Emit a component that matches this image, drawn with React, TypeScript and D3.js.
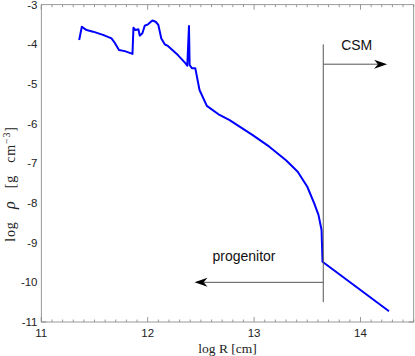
import React, { useRef, useEffect } from "react";
import * as d3 from "d3";

// density profile
const logR = [
  11.356, 11.381, 11.425, 11.487, 11.58, 11.66, 11.69, 11.73, 11.785, 11.857,
  11.866, 11.885, 11.913, 11.925, 11.95, 11.972, 12.003, 12.044, 12.075, 12.1,
  12.128, 12.16, 12.19, 12.284, 12.356, 12.372, 12.388, 12.394, 12.415, 12.447,
  12.487, 12.556, 12.675, 12.77, 12.987, 13.143, 13.3, 13.41, 13.5, 13.565,
  13.605, 13.634, 13.643, 14.268,
];
const logRho = [
  -3.89, -3.555, -3.64, -3.68, -3.76, -3.85, -3.96, -4.14, -4.17, -4.24,
  -3.58, -3.64, -3.62, -3.78, -3.72, -3.53, -3.495, -3.4, -3.43, -3.51,
  -3.85, -4.0, -4.04, -4.27, -4.48, -4.54, -3.54, -4.52, -4.6, -4.6,
  -5.15, -5.55, -5.78, -5.91, -6.29, -6.58, -6.92, -7.21, -7.59, -8.01,
  -8.3, -8.68, -9.48, -10.73,
];

const xTicks = [11, 12, 13, 14];
const yTicks = [-3, -4, -5, -6, -7, -8, -9, -10, -11];

// boundary between progenitor and CSM
const boundaryR = 13.65;
const boundaryRho = [-4, -10.5];
const csmArrow = [13.65, 14.25, -4.5]; // from, to, at
const progArrow = [13.65, 12.44, -10]; // from, to, at

const W = 415;
const H = 356;
const m = { left: 41.3, right: 1.3, top: 4.7, bottom: 34 };

const App = () => {
  const ref = useRef(null);

  useEffect(() => {
    const svg = d3.select(ref.current);
    svg.selectAll("*").remove();

    const x = d3.scaleLinear().domain([11, 14.5]).range([m.left, W - m.right]);
    const y = d3.scaleLinear().domain([-3, -11]).range([m.top, H - m.bottom]);

    const axisColor = "#808080";
    const [x0, x1] = x.range();
    const [y0, y1] = y.range();

    // minor + major ticks, inward, on all four sides
    const xMinor = d3.range(110, 146).map((d) => d / 10);
    const yMinor = d3.range(-150, -54).map((d) => d / 5).filter((d) => d >= -11 && d <= -3);
    const g = svg.append("g").attr("stroke", axisColor).attr("stroke-width", 0.8);
    xMinor.forEach((v) => {
      const major = Math.abs(v - Math.round(v)) < 1e-6;
      const len = major ? 5 : 2.5;
      g.append("line").attr("x1", x(v)).attr("x2", x(v)).attr("y1", y1).attr("y2", y1 - len);
      g.append("line").attr("x1", x(v)).attr("x2", x(v)).attr("y1", y0).attr("y2", y0 + len);
    });
    yMinor.forEach((v) => {
      const major = Math.abs(v - Math.round(v)) < 1e-6;
      const len = major ? 5 : 2.5;
      g.append("line").attr("y1", y(v)).attr("y2", y(v)).attr("x1", x0).attr("x2", x0 + len);
      g.append("line").attr("y1", y(v)).attr("y2", y(v)).attr("x1", x1).attr("x2", x1 - len);
    });
    g.append("rect")
      .attr("x", x0).attr("y", y0)
      .attr("width", x1 - x0).attr("height", y1 - y0)
      .attr("fill", "none");

    const tickFont = "'Liberation Sans', Arial, sans-serif";
    svg.append("g")
      .selectAll("text")
      .data(xTicks)
      .join("text")
      .attr("x", (d) => x(d))
      .attr("y", 337)
      .attr("text-anchor", "middle")
      .attr("font-family", tickFont)
      .attr("font-size", 11.5)
      .attr("fill", "#222")
      .text((d) => d);
    svg.append("g")
      .selectAll("text")
      .data(yTicks)
      .join("text")
      .attr("x", 37.5)
      .attr("y", (d) => y(d))
      .attr("dy", "0.35em")
      .attr("text-anchor", "end")
      .attr("font-family", tickFont)
      .attr("font-size", 11.5)
      .attr("fill", "#222")
      .text((d) => d);

    // axis titles
    const serif = "'Liberation Serif', 'DejaVu Serif', serif";
    svg.append("text")
      .attr("x", (x0 + x1) / 2)
      .attr("y", 353)
      .attr("text-anchor", "middle")
      .attr("font-family", serif)
      .attr("font-size", 13.5)
      .attr("fill", "#222")
      .text("log R [cm]");
    const yt = svg.append("text")
      .attr("transform", `translate(15,184) rotate(-90)`)
      .attr("text-anchor", "middle")
      .attr("font-family", serif)
      .attr("font-size", 14)
      .attr("letter-spacing", 0.8)
      .attr("word-spacing", 8)
      .attr("fill", "#222");
    yt.append("tspan").text("log ");
    yt.append("tspan").attr("font-style", "italic").attr("font-size", 16).text("ρ");
    yt.append("tspan").text(" [g cm");
    yt.append("tspan").attr("font-size", 10).attr("dy", -5).text("−3");
    yt.append("tspan").attr("dy", 5).text("]");

    // density curve
    const pts = logR.map((r, i) => [r, logRho[i]]);
    const line = d3.line().x((d) => x(d[0])).y((d) => y(d[1]));
    svg.append("path")
      .attr("d", line(pts))
      .attr("fill", "none")
      .attr("stroke", "#0000ff")
      .attr("stroke-width", 2)
      .attr("stroke-linejoin", "round");

    // boundary + arrows
    const annColor = "#555";
    svg.append("line")
      .attr("x1", x(boundaryR)).attr("x2", x(boundaryR))
      .attr("y1", y(boundaryRho[0])).attr("y2", y(boundaryRho[1]))
      .attr("stroke", annColor).attr("stroke-width", 1);

    const arrow = (a) => {
      const [from, to, at] = a;
      const dir = Math.sign(to - from);
      const tip = x(to);
      const yy = y(at);
      const L = 13;
      const w = 4.5;
      svg.append("line")
        .attr("x1", x(from)).attr("x2", tip - dir * L * 0.7)
        .attr("y1", yy).attr("y2", yy)
        .attr("stroke", annColor).attr("stroke-width", 1);
      svg.append("path")
        .attr("d", `M${tip},${yy} L${tip - dir * L},${yy - w} L${tip - dir * L * 0.7},${yy} L${tip - dir * L},${yy + w} Z`)
        .attr("fill", "#000");
    };
    arrow(csmArrow);
    arrow(progArrow);

    svg.append("text")
      .attr("x", 356.7).attr("y", y(-4.15))
      .attr("text-anchor", "middle")
      .attr("font-family", tickFont)
      .attr("font-size", 14)
      .attr("fill", "#111")
      .text("CSM");
    svg.append("text")
      .attr("x", 244).attr("y", y(-9.45))
      .attr("text-anchor", "middle")
      .attr("font-family", tickFont)
      .attr("font-size", 14)
      .attr("fill", "#111")
      .text("progenitor");
  });

  return (
    <div style={{ position: "absolute", left: 0, top: 0 }}>
      <svg ref={ref} width={W} height={H} style={{ display: "block", background: "#fff" }}></svg>
    </div>
  );
};

export default App;
